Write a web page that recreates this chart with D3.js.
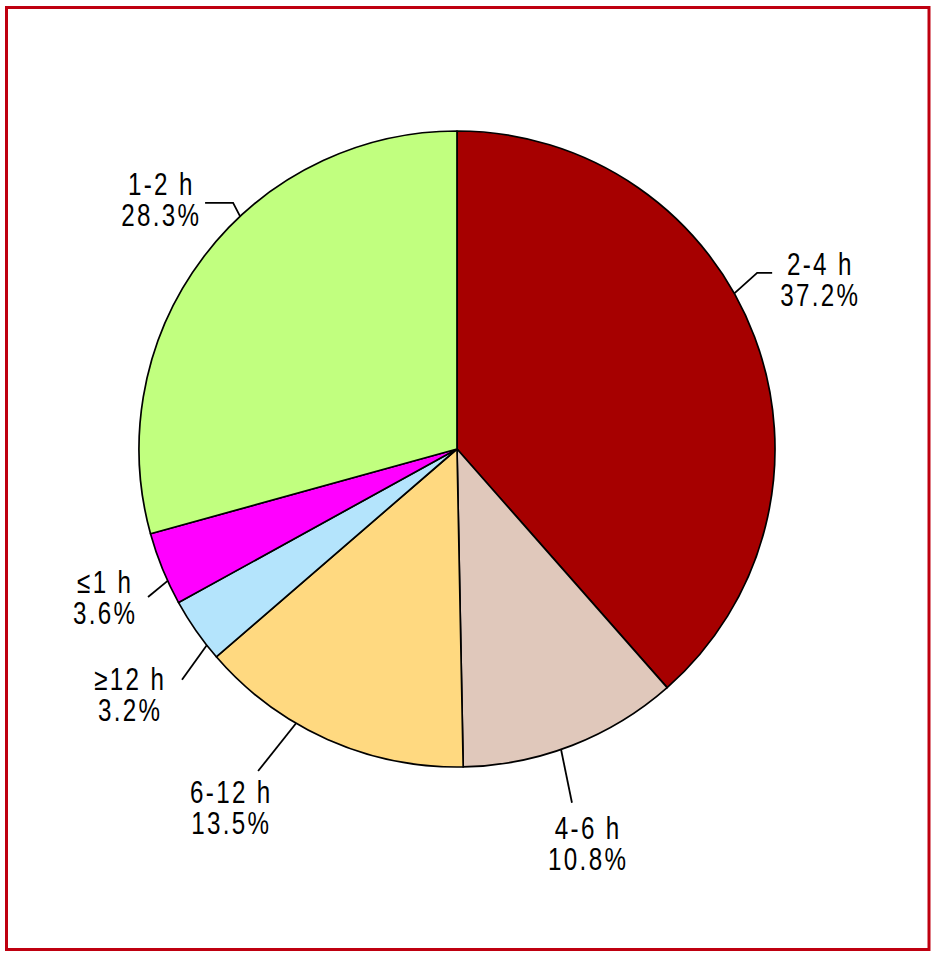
<!DOCTYPE html>
<html>
<head>
<meta charset="utf-8">
<script src="https://cdn.jsdelivr.net/npm/d3@7/dist/d3.min.js"></script>
<style>
  html, body { margin: 0; padding: 0; background: #fff; }
  svg { display: block; }
  text { font-family: "Liberation Sans", Arial, sans-serif; }
</style>
</head>
<body>
<svg id="chart" width="937" height="958"></svg>
<script>
// Data
const categories = ["2-4 h", "4-6 h", "6-12 h", "\u226512 h", "\u22641 h", "1-2 h"];
const values = [37.2, 10.8, 13.5, 3.2, 3.6, 28.3];
const valueLabels = ["37.2%", "10.8%", "13.5%", "3.2%", "3.6%", "28.3%"];
const colors = ["#a60000", "#e0c8bb", "#ffd980", "#b4e4fc", "#ff00ff", "#c1ff7f"];

// Label layout (angles in degrees clockwise from 12 o'clock)
const leaderInnerAngle = [60.7, 160.9, 210.4, 231.9, 245.5, 317];
const leaderOuterAngle = [59.6, 162.0, 211.7, 230.0, 244.4, 317.7];
const leaderOuter = [348, 372, 378.5, 359, 342.6, 332.7];
const leaderHook = [15, 0, 0, 0, 0, -28];
const textDx = [47, 15, -28, -53, -44, -45];
const textDy = [2, 36, 32, 10, -4, -8];

const svg = d3.select("#chart");

// Frame
svg.append("rect")
  .attr("x", 6.5).attr("y", 7.5)
  .attr("width", 922.5).attr("height", 942)
  .attr("fill", "none")
  .attr("stroke", "#bf0010")
  .attr("stroke-width", 3);

const cx = 457, cy = 449, R = 318;
const g = svg.append("g").attr("transform", `translate(${cx},${cy})`);

const pie = d3.pie().sort(null).value(d => d)(values);
const arc = d3.arc().innerRadius(0).outerRadius(R);

g.selectAll("path.slice")
  .data(pie)
  .enter().append("path")
  .attr("class", "slice")
  .attr("d", arc)
  .attr("fill", (d, i) => colors[i])
  .attr("stroke", "#000")
  .attr("stroke-width", 1.7)
  .attr("stroke-linejoin", "round");

const rad = a => a * Math.PI / 180;
const pt = (a, r) => [r * Math.sin(rad(a)), -r * Math.cos(rad(a))];
const sx = 0.78;
const ls = 3;

categories.forEach((c, i) => {
  const p0 = pt(leaderInnerAngle[i], R);
  const p1 = pt(leaderOuterAngle[i], leaderOuter[i]);
  const p2 = [p1[0] + leaderHook[i], p1[1]];
  const pts = leaderHook[i] !== 0 ? [p0, p1, p2] : [p0, p1];
  g.append("path")
    .attr("d", d3.line()(pts))
    .attr("fill", "none")
    .attr("stroke", "#000")
    .attr("stroke-width", 1.8);
  const tx = p2[0] + textDx[i], ty = p2[1] + textDy[i];
  const t = g.append("text")
    .attr("transform", `translate(${tx},${ty}) scale(${sx},1)`)
    .attr("text-anchor", "middle")
    .attr("font-size", 31)
    .attr("letter-spacing", ls)
    .attr("fill", "#000");
  t.append("tspan").attr("x", ls / 2).text(c);
  t.append("tspan").attr("x", ls / 2).attr("dy", 31).text(valueLabels[i]);
});
</script>
</body>
</html>
